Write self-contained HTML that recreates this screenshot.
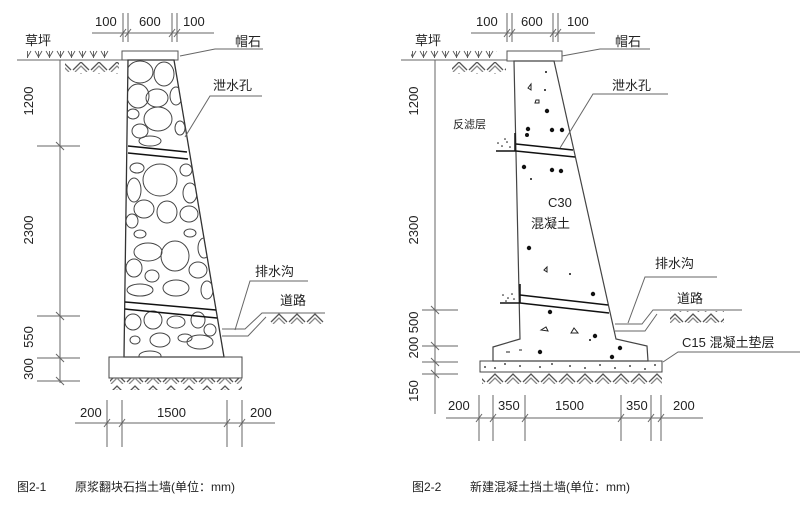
<!DOCTYPE html>
<html><head><meta charset="utf-8"><style>
html,body{margin:0;padding:0;background:#fff;}
svg{display:block}
text{font-family:"Liberation Sans","Noto Sans CJK SC",sans-serif;fill:#222;}
</style></head><body>
<svg width="800" height="507" viewBox="0 0 800 507" xmlns="http://www.w3.org/2000/svg">
<defs>
<clipPath id="wc"><polygon points="128,60 174,60 224,357 124,357"/></clipPath>
<pattern id="zig" width="18" height="12" patternUnits="userSpaceOnUse">
<polyline points="1,10 9,2 17,10" fill="none" stroke="#555" stroke-width="1.3"/>
<polyline points="3,12 9,6 15,12" fill="none" stroke="#888" stroke-width="1.3"/>
</pattern>
<pattern id="grass" width="11" height="10" patternUnits="userSpaceOnUse">
<polyline points="2,1 5.5,7 9,1" fill="none" stroke="#555" stroke-width="0.9"/>
<line x1="5.5" y1="1" x2="5.5" y2="8" stroke="#555" stroke-width="0.9"/>
</pattern>
</defs>
<g stroke="#666" stroke-width="1" fill="none">
<!-- LEFT FIGURE -->
<line x1="92" y1="33" x2="214" y2="33"/>
<line x1="123" y1="13" x2="123" y2="42"/><line x1="128" y1="13" x2="128" y2="42"/>
<line x1="172" y1="13" x2="172" y2="42"/><line x1="177" y1="13" x2="177" y2="42"/>
<line x1="120" y1="37" x2="126" y2="29"/><line x1="125" y1="37" x2="131" y2="29"/>
<line x1="169" y1="37" x2="175" y2="29"/><line x1="174" y1="37" x2="180" y2="29"/>
<line x1="17" y1="60" x2="122" y2="60"/>
<rect x="27" y="50" width="82" height="9" fill="url(#grass)" stroke="none"/>
<rect x="65" y="62" width="54" height="12" fill="url(#zig)" stroke="none"/>
<rect x="122" y="51" width="56" height="9" stroke="#555"/>
<polygon points="128,60 174,60 224,357 124,357" stroke="#333" stroke-width="1.3"/>
<g clip-path="url(#wc)" stroke="#444" stroke-width="1">
<ellipse cx="140" cy="72" rx="13" ry="11"/><ellipse cx="164" cy="74" rx="10" ry="12"/>
<ellipse cx="138" cy="96" rx="11" ry="12"/><ellipse cx="157" cy="98" rx="11" ry="9"/>
<ellipse cx="176" cy="96" rx="6" ry="9"/><ellipse cx="133" cy="114" rx="6" ry="5"/>
<ellipse cx="158" cy="119" rx="14" ry="12"/><ellipse cx="140" cy="131" rx="8" ry="7"/>
<ellipse cx="180" cy="128" rx="5" ry="7"/><ellipse cx="150" cy="141" rx="11" ry="5"/>
<ellipse cx="137" cy="168" rx="7" ry="5"/><ellipse cx="160" cy="180" rx="17" ry="16"/>
<ellipse cx="134" cy="190" rx="7" ry="12"/><ellipse cx="186" cy="170" rx="6" ry="6"/>
<ellipse cx="190" cy="193" rx="7" ry="10"/><ellipse cx="144" cy="209" rx="10" ry="9"/>
<ellipse cx="167" cy="212" rx="10" ry="11"/><ellipse cx="189" cy="214" rx="9" ry="8"/>
<ellipse cx="132" cy="221" rx="6" ry="7"/><ellipse cx="140" cy="234" rx="6" ry="4"/>
<ellipse cx="190" cy="233" rx="6" ry="4"/><ellipse cx="148" cy="252" rx="14" ry="9"/>
<ellipse cx="175" cy="256" rx="14" ry="15"/><ellipse cx="204" cy="248" rx="6" ry="10"/>
<ellipse cx="134" cy="268" rx="8" ry="9"/><ellipse cx="152" cy="276" rx="7" ry="6"/>
<ellipse cx="198" cy="270" rx="9" ry="8"/><ellipse cx="140" cy="290" rx="13" ry="6"/>
<ellipse cx="176" cy="288" rx="13" ry="8"/><ellipse cx="207" cy="290" rx="6" ry="9"/>
<ellipse cx="133" cy="322" rx="8" ry="8"/><ellipse cx="153" cy="320" rx="9" ry="9"/>
<ellipse cx="176" cy="322" rx="9" ry="6"/><ellipse cx="198" cy="320" rx="7" ry="8"/>
<ellipse cx="135" cy="340" rx="5" ry="4"/><ellipse cx="185" cy="338" rx="7" ry="4"/>
<ellipse cx="160" cy="340" rx="10" ry="7"/><ellipse cx="200" cy="342" rx="13" ry="7"/>
<ellipse cx="150" cy="356" rx="11" ry="5"/><ellipse cx="210" cy="330" rx="6" ry="6"/>
</g>
<g stroke="#111" stroke-width="1.5">
<line x1="128" y1="146" x2="187" y2="152"/><line x1="128" y1="153" x2="188" y2="159"/>
<line x1="125" y1="302" x2="216" y2="310"/><line x1="125" y1="309" x2="217" y2="318"/>
</g>
<rect x="109" y="357" width="133" height="21" stroke="#444"/>
<rect x="110" y="378" width="132" height="12" fill="url(#zig)" stroke="none"/>
<line x1="60" y1="60" x2="60" y2="383"/>
<line x1="37" y1="146" x2="80" y2="146"/><line x1="37" y1="316" x2="80" y2="316"/>
<line x1="37" y1="358" x2="80" y2="358"/><line x1="37" y1="381" x2="80" y2="381"/>
<line x1="56" y1="142" x2="64" y2="150"/><line x1="56" y1="312" x2="64" y2="320"/>
<line x1="56" y1="354" x2="64" y2="362"/><line x1="56" y1="377" x2="64" y2="385"/>
<line x1="75" y1="423" x2="275" y2="423"/>
<line x1="107" y1="400" x2="107" y2="447"/><line x1="122" y1="400" x2="122" y2="447"/>
<line x1="227" y1="400" x2="227" y2="447"/><line x1="242" y1="400" x2="242" y2="447"/>
<line x1="104" y1="427" x2="110" y2="419"/><line x1="119" y1="427" x2="125" y2="419"/>
<line x1="224" y1="427" x2="230" y2="419"/><line x1="239" y1="427" x2="245" y2="419"/>
<polyline points="180,56 215,49 263,49"/>
<polyline points="185,137 210,96 262,96"/>
<polyline points="235,330 250,281 308,281"/>
<polyline points="222,329 245,329 262,313 325,313"/>
<polyline points="222,336 248,336 266,317"/>
<rect x="270" y="313" width="54" height="12" fill="url(#zig)" stroke="none"/>

<!-- RIGHT FIGURE -->
<line x1="471" y1="33" x2="595" y2="33"/>
<line x1="507" y1="13" x2="507" y2="42"/><line x1="512" y1="13" x2="512" y2="42"/>
<line x1="553" y1="13" x2="553" y2="42"/><line x1="558" y1="13" x2="558" y2="42"/>
<line x1="504" y1="37" x2="510" y2="29"/><line x1="509" y1="37" x2="515" y2="29"/>
<line x1="550" y1="37" x2="556" y2="29"/><line x1="555" y1="37" x2="561" y2="29"/>
<line x1="401" y1="60" x2="507" y2="60"/>
<rect x="411" y="50" width="86" height="9" fill="url(#grass)" stroke="none"/>
<rect x="452" y="62" width="54" height="12" fill="url(#zig)" stroke="none"/>
<rect x="507" y="51" width="55" height="10" stroke="#555"/>
<polygon points="514,61 554,61 616,339 647,346 648,361 493,361 493,347 520,339" stroke="#444" stroke-width="1.2"/>
<rect x="480" y="361" width="182" height="11" stroke="#444"/>
<rect x="482" y="373" width="180" height="12" fill="url(#zig)" stroke="none"/>
<g stroke="#111" stroke-width="1.5">
<line x1="516" y1="144" x2="573" y2="150"/><line x1="516" y1="151" x2="575" y2="157"/>
<line x1="520" y1="295" x2="608" y2="305"/><line x1="520" y1="303" x2="609" y2="313"/>
<line x1="496" y1="151" x2="516" y2="151"/><line x1="515" y1="133" x2="515" y2="151"/>
<line x1="500" y1="303" x2="520" y2="303"/><line x1="520" y1="284" x2="520" y2="303"/>
</g>
<line x1="435" y1="60" x2="435" y2="414"/>
<line x1="422" y1="310" x2="458" y2="310"/><line x1="422" y1="346" x2="458" y2="346"/>
<line x1="422" y1="362" x2="458" y2="362"/><line x1="422" y1="374" x2="458" y2="374"/>
<line x1="431" y1="306" x2="439" y2="314"/><line x1="431" y1="342" x2="439" y2="350"/>
<line x1="431" y1="358" x2="439" y2="366"/><line x1="431" y1="370" x2="439" y2="378"/>
<line x1="446" y1="418" x2="703" y2="418"/>
<line x1="479" y1="395" x2="479" y2="441"/><line x1="493" y1="395" x2="493" y2="441"/>
<line x1="525" y1="395" x2="525" y2="441"/><line x1="621" y1="395" x2="621" y2="441"/>
<line x1="651" y1="395" x2="651" y2="441"/><line x1="661" y1="395" x2="661" y2="441"/>
<line x1="476" y1="422" x2="482" y2="414"/><line x1="490" y1="422" x2="496" y2="414"/>
<line x1="522" y1="422" x2="528" y2="414"/><line x1="618" y1="422" x2="624" y2="414"/>
<line x1="648" y1="422" x2="654" y2="414"/><line x1="658" y1="422" x2="664" y2="414"/>
<polyline points="562,56 600,49 650,49"/>
<polyline points="560,148 593,94 668,94"/>
<polyline points="628,323 645,277 717,277"/>
<polyline points="615,324 642,324 653,310 742,310"/>
<polyline points="615,331 645,331 657,314"/>
<rect x="670" y="311" width="54" height="12" fill="url(#zig)" stroke="none"/>
<polyline points="663,362 678,352 800,352"/>
</g>
<g fill="#111">
<circle cx="547" cy="111" r="2.2"/><circle cx="528" cy="129" r="2.2"/><circle cx="552" cy="130" r="2.2"/>
<circle cx="562" cy="130" r="2.2"/><circle cx="527" cy="135" r="2"/><circle cx="524" cy="167" r="2.2"/>
<circle cx="552" cy="170" r="2.2"/><circle cx="561" cy="171" r="2.2"/><circle cx="531" cy="179" r="1"/>
<circle cx="529" cy="248" r="2.2"/><circle cx="593" cy="294" r="2.2"/><circle cx="550" cy="312" r="2.2"/>
<circle cx="595" cy="336" r="2.2"/><circle cx="540" cy="352" r="2.2"/><circle cx="620" cy="348" r="2.2"/>
<circle cx="612" cy="357" r="2.2"/><circle cx="546" cy="72" r="1"/><circle cx="545" cy="90" r="1"/>
<circle cx="570" cy="274" r="1"/><circle cx="590" cy="340" r="1"/>
<circle cx="485" cy="367" r="0.9"/><circle cx="495" cy="368" r="0.9"/><circle cx="505" cy="364" r="0.9"/>
<circle cx="520" cy="366" r="0.9"/><circle cx="540" cy="367" r="0.9"/><circle cx="552" cy="364" r="0.9"/>
<circle cx="570" cy="366" r="0.9"/><circle cx="585" cy="368" r="0.9"/><circle cx="600" cy="365" r="0.9"/>
<circle cx="615" cy="368" r="0.9"/><circle cx="630" cy="366" r="0.9"/><circle cx="645" cy="369" r="0.9"/>
<circle cx="655" cy="365" r="0.9"/>
<circle cx="498" cy="143" r="0.8"/><circle cx="502" cy="146" r="0.8"/><circle cx="507" cy="142" r="0.8"/>
<circle cx="510" cy="147" r="0.8"/><circle cx="505" cy="139" r="0.8"/>
<circle cx="503" cy="295" r="0.8"/><circle cx="508" cy="298" r="0.8"/><circle cx="512" cy="294" r="0.8"/>
<circle cx="506" cy="301" r="0.8"/><circle cx="514" cy="299" r="0.8"/>
</g>
<g fill="none" stroke="#222" stroke-width="1">
<path d="M528,88 l3,-4 l0,6 z"/><path d="M535,103 h4 v-3 h-3 z"/><path d="M544,270 l3,-3 0,5 z"/>
<path d="M541,330 l5,-3 2,4 z"/><path d="M571,333 l3,-5 4,5 z"/>
<line x1="506" y1="352" x2="510" y2="352"/><line x1="519" y1="350" x2="522" y2="350"/>
</g>
<g font-size="13">
<text x="95" y="26">100</text><text x="139" y="26">600</text><text x="183" y="26">100</text>
<text x="25" y="45">草坪</text><text x="235" y="46">帽石</text>
<text x="213" y="90">泄水孔</text><text x="255" y="276">排水沟</text><text x="280" y="305">道路</text>
<text x="80" y="417">200</text><text x="157" y="417">1500</text><text x="250" y="417">200</text>
<text transform="translate(33,101) rotate(-90)" text-anchor="middle">1200</text>
<text transform="translate(33,230) rotate(-90)" text-anchor="middle">2300</text>
<text transform="translate(33,337) rotate(-90)" text-anchor="middle">550</text>
<text transform="translate(33,369) rotate(-90)" text-anchor="middle">300</text>
<text x="476" y="26">100</text><text x="521" y="26">600</text><text x="567" y="26">100</text>
<text x="415" y="45">草坪</text><text x="615" y="46">帽石</text>
<text x="612" y="90">泄水孔</text><text x="655" y="268">排水沟</text><text x="677" y="303">道路</text>
<text x="682" y="347">C15 混凝土垫层</text>
<text x="548" y="207">C30</text><text x="531" y="228">混凝土</text>
<text x="448" y="410">200</text><text x="498" y="410">350</text><text x="555" y="410">1500</text>
<text x="626" y="410">350</text><text x="673" y="410">200</text>
<text transform="translate(418,101) rotate(-90)" text-anchor="middle">1200</text>
<text transform="translate(418,230) rotate(-90)" text-anchor="middle">2300</text>
<text transform="translate(418,335) rotate(-90)" text-anchor="middle">200 500</text>
<text transform="translate(418,391) rotate(-90)" text-anchor="middle">150</text>
</g>
<text x="453" y="128" font-size="11">反滤层</text>
<g font-size="12">
<text x="17" y="491">图2-1</text><text x="75" y="491">原浆翻块石挡土墙(单位：mm)</text>
<text x="412" y="491">图2-2</text><text x="470" y="491">新建混凝土挡土墙(单位：mm)</text>
</g>
</svg>
</body></html>
